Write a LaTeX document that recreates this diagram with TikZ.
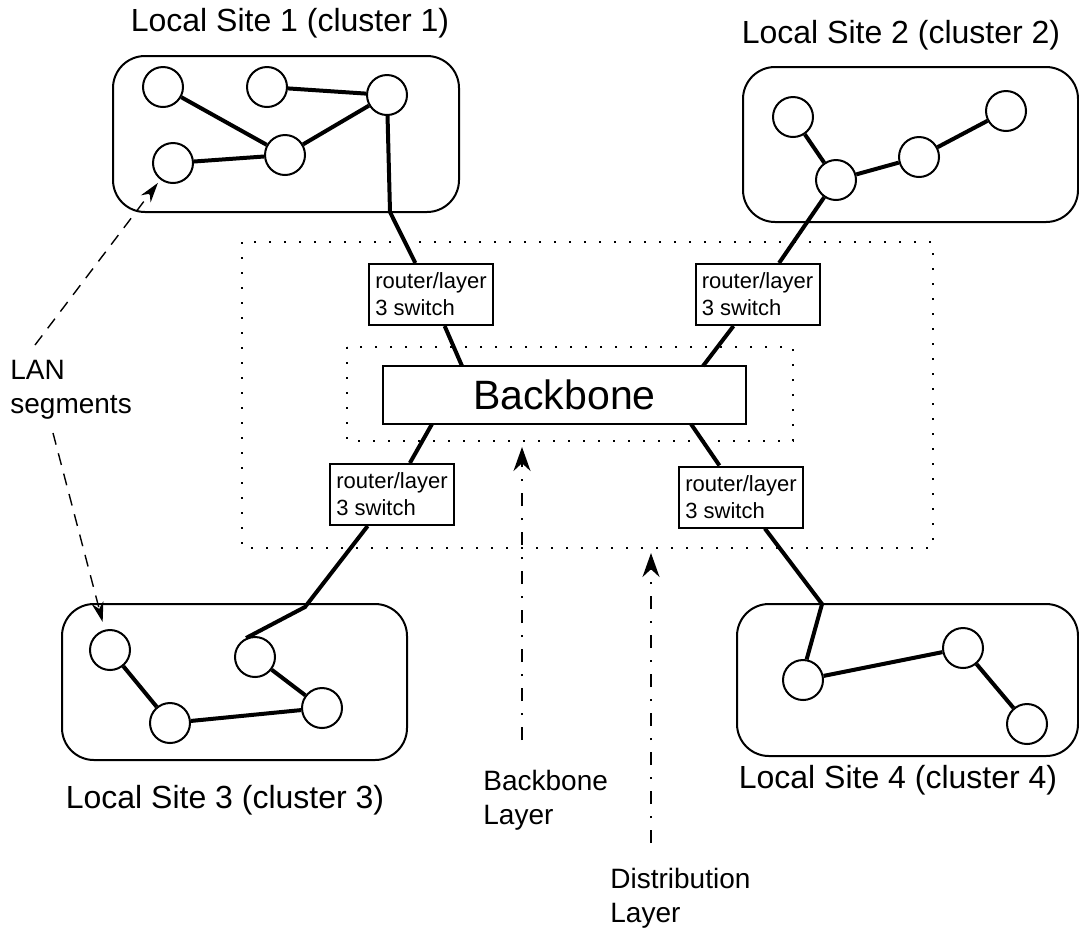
\documentclass[tikz,border=0pt]{standalone}
\usepackage{fontspec}
\setmainfont{Liberation Sans}
\usetikzlibrary{arrows.meta}

\tikzset{
  host/.style={draw, circle, fill=white, line width=1pt, minimum size=20pt, inner sep=0pt},
  link/.style={line width=2pt},
  site/.style={draw, line width=1pt, rounded corners=16pt},
  zone/.style={line width=1.1pt, dash pattern=on 1.1pt off 6.4pt},
  router/.style={draw, fill=white, line width=1pt, minimum width=62pt, minimum height=30.5pt,
    inner sep=0pt, align=left, font=\fontsize{11}{13.5}\selectfont},
  core/.style={draw, fill=white, line width=1pt, minimum width=181.5pt, minimum height=29pt,
    inner sep=0pt, font=\fontsize{20.5}{24}\selectfont},
  title/.style={inner sep=0pt, font=\fontsize{16}{19}\selectfont},
  note/.style={inner sep=0pt, anchor=north west, align=left, font=\fontsize{14}{17}\selectfont},
  pointer/.style={line width=0.7pt, dash pattern=on 6pt off 4.5pt, -{Stealth[length=10pt,width=6pt]}},
  layerarrow/.style={line width=1pt, dash pattern=on 6.5pt off 6pt on 1pt off 6pt,
    -{Stealth[length=12pt,width=8.5pt]}}
}

\begin{document}
\begin{tikzpicture}[x=0.5pt,y=-0.5pt]
    \useasboundingbox (0,0) rectangle (1079,928);

    % layers
    \draw[zone] (242,242) rectangle (933,548);
    \draw[zone] (347,347) rectangle (793,441);

    % local sites
    \draw[site] (113,56) rectangle (459,212);
    \draw[site] (743,67) rectangle (1078,222);
    \draw[site] (62,604) rectangle (407,760);
    \draw[site] (737,604) rectangle (1078,756);

    \node[title] (t1) at (290,23) {Local Site 1 (cluster 1)};
    \node[title] (t2) at (901,35) {Local Site 2 (cluster 2)};
    \node[title] (t3) at (225,800) {Local Site 3 (cluster 3)};
    \node[title] (t4) at (898,780) {Local Site 4 (cluster 4)};

    \foreach \n/\x/\y in {a1/163/87,a2/267/87,a3/387/95,a4/285/155,a5/173/163,
                          b1/793/117,b2/836/180,b3/919/157,b4/1006/111,
                          c1/110/650,c2/170/723,c3/255/657,c4/322/708,
                          d1/803/680,d2/963/648,d3/1027/724}
        \node[host] (\n) at (\x,\y) {};

    \draw[link] (a1) -- (a4) (a2) -- (a3) (a3) -- (a4) (a5) -- (a4);
    \draw[link] (b1) -- (b2) (b2) -- (b3) (b3) -- (b4);
    \draw[link] (c1) -- (c2) (c2) -- (c4) (c3) -- (c4);
    \draw[link] (d1) -- (d2) (d2) -- (d3);

    % backbone and routers
    \node[core] (bb) at (564.5,395) {Backbone};
    \node[router] (r1) at (431,294.5) {router/layer\\3 switch};
    \node[router] (r2) at (757.5,294.5) {router/layer\\3 switch};
    \node[router] (r3) at (392,494.5) {router/layer\\3 switch};
    \node[router] (r4) at (741,497) {router/layer\\3 switch};

    \coordinate (k1) at (390,212);
    \coordinate (j1) at (462,366);
    \coordinate (j2) at (703,366);
    \coordinate (j3) at (432,424);
    \coordinate (k3) at (305,607);
    \coordinate (j4) at (691,424);
    \coordinate (k4) at (822,604);

    \draw[link] (a3) -- (k1) -- (r1);
    \draw[link] (r1) -- (j1);
    \draw[link] (b2) -- (r2);
    \draw[link] (r2) -- (j2);
    \draw[link] (j3) -- (r3);
    \draw[link] (r3) -- (k3) -- (c3.115);
    \draw[link] (j4) -- (r4);
    \draw[link] (r4) -- (k4) -- (d1.80);

    % labels
    \node[note] (lan) at (10,360) {LAN\\segments};
    \node[note] (bbl) at (483,770) {Backbone\\Layer};
    \node[note] (dl) at (610,868) {Distribution\\Layer};

    \coordinate (lanUp) at (35,345);
    \coordinate (lanDown) at (53,433);
    \draw[pointer, shorten >=2pt] (lanUp) -- (a5);
    \draw[pointer, shorten >=4pt] (lanDown) -- (c1);

    \coordinate (bl0) at (522,740);
    \coordinate (bl1) at (522,447);
    \coordinate (dl0) at (651,843);
    \coordinate (dl1) at (651,553);
    \draw[layerarrow] (bl0) -- (bl1);
    \draw[layerarrow] (dl0) -- (dl1);
\end{tikzpicture}
\end{document}
